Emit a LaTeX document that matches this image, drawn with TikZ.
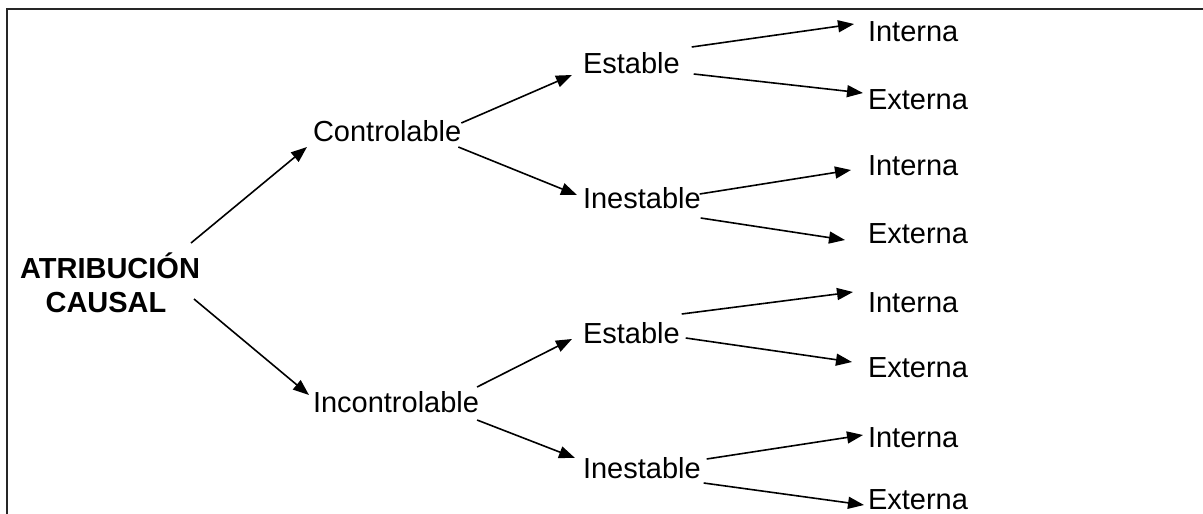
\documentclass[tikz,border=0pt]{standalone}
\usepackage{fontspec}
\setmainfont{Liberation Sans}
\usetikzlibrary{arrows.meta,calc}
\begin{document}
\begin{tikzpicture}[x=1pt,y=-1pt,
  lbl/.style={inner sep=0pt,outer sep=0pt,anchor=base west,font=\fontsize{29}{33}\selectfont},
  arr/.style={line width=1.6pt,-{Triangle[length=16pt,width=12pt]}},
  frame/.style={line width=1.6pt,draw=black!85}]
\useasboundingbox (0,0) rectangle (1203,514);
\draw[frame] (7,514) -- (7,9) -- (1203,9);
\node[inner sep=0pt,align=center,font=\bfseries\fontsize{29}{34}\selectfont] (atr) at (110,283) {ATRIBUCIÓN\\CAUSAL\hspace*{8pt}};
\node[lbl] (ctrl) at (313,141) {Controlable};
\node[lbl] (inc) at (313,412) {Incontrolable};
\node[lbl] (est1) at (583,73) {Estable};
\node[lbl] (ine1) at (583,208) {Inestable};
\node[lbl] (est2) at (583,343) {Estable};
\node[lbl] (ine2) at (583,478) {Inestable};
\node[lbl] (int1) at (868,41) {Interna};
\node[lbl] (ext1) at (868,109) {Externa};
\node[lbl] (int2) at (868,175) {Interna};
\node[lbl] (ext2) at (868,243) {Externa};
\node[lbl] (int3) at (868,312) {Interna};
\node[lbl] (ext3) at (868,377) {Externa};
\node[lbl] (int4) at (868,447) {Interna};
\node[lbl] (ext4) at (868,509) {Externa};
\draw[arr] ($(atr.center)+(81,-40)$) -- ($(ctrl.base west)+(-6,6)$);
\draw[arr] ($(atr.center)+(84,16)$) -- ($(inc.base west)+(-4,-17)$);
\draw[arr] ($(ctrl.base east)+(0,-18)$) -- ($(est1.base west)+(-11,2)$);
\draw[arr] ($(ctrl.base east)+(-3,6)$) -- ($(ine1.base west)+(-6,-13)$);
\draw[arr] ($(est1.base east)+(12,-26)$) -- ($(int1.base west)+(-14,-17)$);
\draw[arr] ($(est1.base east)+(14,1)$) -- ($(ext1.base west)+(-5,-16)$);
\draw[arr] ($(ine1.base east)+(-1,-14)$) -- ($(int2.base west)+(-17,-5)$);
\draw[arr] ($(ine1.base east)+(0,10)$) -- ($(ext2.base west)+(-23,-3)$);
\draw[arr] ($(inc.base east)+(-2,-25)$) -- ($(est2.base west)+(-11,-4)$);
\draw[arr] ($(inc.base east)+(-2,8)$) -- ($(ine2.base west)+(-8,-20)$);
\draw[arr] ($(est2.base east)+(2,-29)$) -- ($(int3.base west)+(-15,-20)$);
\draw[arr] ($(est2.base east)+(6,-5)$) -- ($(ext3.base west)+(-16,-15)$);
\draw[arr] ($(ine2.base east)+(6,-19)$) -- ($(int4.base west)+(-5,-12)$);
\draw[arr] ($(ine2.base east)+(3,5)$) -- ($(ext4.base west)+(-4,-4)$);
\end{tikzpicture}
\end{document}
